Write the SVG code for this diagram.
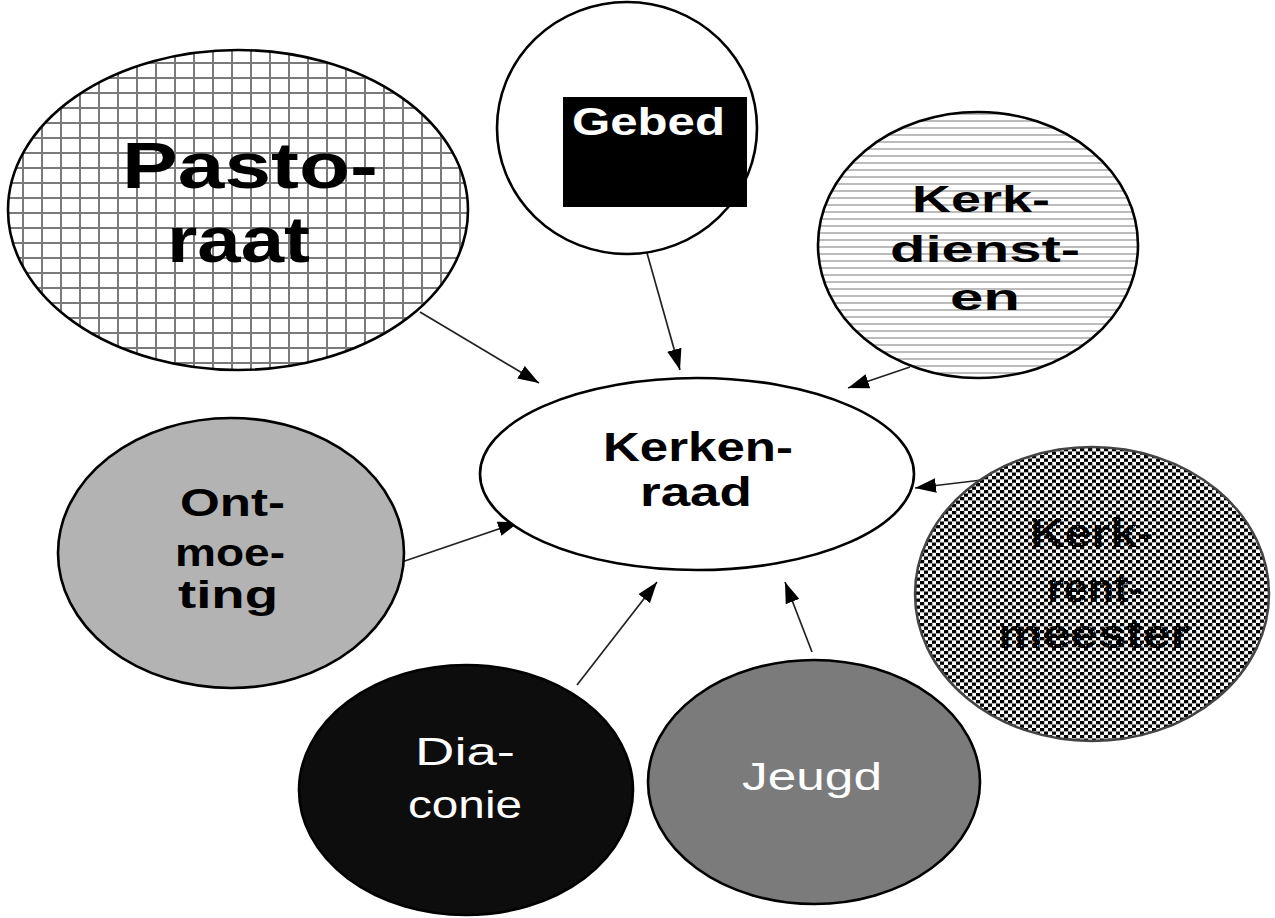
<svg xmlns="http://www.w3.org/2000/svg" width="1275" height="918" viewBox="0 0 1275 918">
<style>
.b{font-family:"Liberation Sans",Arial,sans-serif;font-weight:bold;fill:#000}
.w{font-family:"Liberation Sans",Arial,sans-serif;fill:#fff}
.e{stroke:#000;stroke-width:2.6}
.c{stroke:#222;stroke-width:1.7;fill:none;marker-end:url(#ah)}
</style>
<defs>
<pattern id="grid" width="19" height="15" patternUnits="userSpaceOnUse" x="3" y="2">
<rect width="19" height="15" fill="#fff"/>
<path d="M1 0V15M0 1H19" stroke="#7a7a7a" stroke-width="2"/>
</pattern>
<pattern id="stripes" width="10" height="7" patternUnits="userSpaceOnUse">
<rect width="10" height="7" fill="#fff"/>
<path d="M0 2H10" stroke="#bcbcbc" stroke-width="2"/>
</pattern>
<pattern id="dots" width="8" height="7" patternUnits="userSpaceOnUse">
<rect width="8" height="7" fill="#fafafa"/>
<rect x="0" y="0" width="4.2" height="3.3" fill="#000"/>
<rect x="4" y="3.5" width="4.2" height="3.3" fill="#000"/>
</pattern>
<pattern id="speck" width="8" height="7" patternUnits="userSpaceOnUse">
<rect width="8" height="7" fill="#000"/>
<rect x="5" y="1" width="1.4" height="1.4" fill="#ccc"/>
<rect x="1" y="4.5" width="1.4" height="1.4" fill="#ccc"/>
</pattern>
<marker id="ah" viewBox="0 0 20 14" refX="20" refY="7" markerWidth="21" markerHeight="15" markerUnits="userSpaceOnUse" orient="auto">
<path d="M0 0L20 7L0 14z" fill="#000"/>
</marker>
</defs>
<rect width="1275" height="918" fill="#fff"/>
<g id="connectors">
<line class="c" x1="420" y1="312" x2="539" y2="383"/>
<line class="c" x1="647" y1="253" x2="680" y2="370"/>
<line class="c" x1="910" y1="367" x2="848" y2="388"/>
<line class="c" x1="393" y1="565" x2="519" y2="522"/>
<line class="c" x1="577" y1="685" x2="657" y2="582"/>
<line class="c" x1="812" y1="652" x2="785" y2="582"/>
<line class="c" x1="982" y1="480" x2="915" y2="488"/>
</g>
<g id="pastoraat">
<ellipse class="e" cx="238" cy="210" rx="230" ry="160" fill="url(#grid)"/>
<text class="b" x="122" y="188" font-size="64" textLength="256" lengthAdjust="spacingAndGlyphs">Pasto-</text>
<text class="b" x="167" y="262" font-size="64" textLength="143" lengthAdjust="spacingAndGlyphs">raat</text>
</g>
<g id="gebed">
<ellipse class="e" cx="627" cy="128" rx="130" ry="126" fill="#fff"/>
<rect x="563" y="97" width="184" height="110" fill="#000"/>
<text class="w" font-weight="bold" x="572" y="135" font-size="39" textLength="153" lengthAdjust="spacingAndGlyphs">Gebed</text>
</g>
<g id="kerkdiensten">
<ellipse class="e" cx="978" cy="245" rx="160" ry="133" fill="url(#stripes)"/>
<text class="b" x="912" y="212" font-size="36" textLength="138" lengthAdjust="spacingAndGlyphs">Kerk-</text>
<text class="b" x="890" y="262" font-size="36" textLength="190" lengthAdjust="spacingAndGlyphs">dienst-</text>
<text class="b" x="950" y="310" font-size="36" textLength="70" lengthAdjust="spacingAndGlyphs">en</text>
</g>
<g id="kerkenraad">
<ellipse class="e" cx="697" cy="474" rx="217" ry="96" fill="#fff"/>
<text class="b" x="603" y="461" font-size="40" textLength="190" lengthAdjust="spacingAndGlyphs">Kerken-</text>
<text class="b" x="640" y="506" font-size="40" textLength="112" lengthAdjust="spacingAndGlyphs">raad</text>
</g>
<g id="ontmoeting">
<ellipse class="e" cx="231" cy="553" rx="173" ry="135" fill="#b3b3b3"/>
<text class="b" x="180" y="516" font-size="39" textLength="105" lengthAdjust="spacingAndGlyphs">Ont-</text>
<text class="b" x="175" y="566" font-size="39" textLength="110" lengthAdjust="spacingAndGlyphs">moe-</text>
<text class="b" x="178" y="608" font-size="39" textLength="100" lengthAdjust="spacingAndGlyphs">ting</text>
</g>
<g id="kerkrentmeester">
<ellipse cx="1092" cy="594" rx="177" ry="147" fill="url(#dots)" stroke="#444" stroke-width="2.5"/>
<text class="b" x="1030" y="547" font-size="40" textLength="123" lengthAdjust="spacingAndGlyphs" style="fill:url(#speck)">Kerk-</text>
<text class="b" x="1047" y="602" font-size="40" textLength="96" lengthAdjust="spacingAndGlyphs" style="fill:url(#speck)">rent-</text>
<text class="b" x="998" y="648" font-size="40" textLength="192" lengthAdjust="spacingAndGlyphs" style="fill:url(#speck)">meester</text>
</g>
<g id="diaconie">
<ellipse class="e" cx="466" cy="790" rx="167" ry="125" fill="#0d0d0d"/>
<text class="w" x="415" y="765" font-size="38" textLength="100" lengthAdjust="spacingAndGlyphs">Dia-</text>
<text class="w" x="408" y="818" font-size="38" textLength="114" lengthAdjust="spacingAndGlyphs">conie</text>
</g>
<g id="jeugd">
<ellipse class="e" cx="814" cy="782" rx="166" ry="122" fill="#7b7b7b"/>
<text class="w" x="742" y="790" font-size="38" textLength="140" lengthAdjust="spacingAndGlyphs">Jeugd</text>
</g>
</svg>
